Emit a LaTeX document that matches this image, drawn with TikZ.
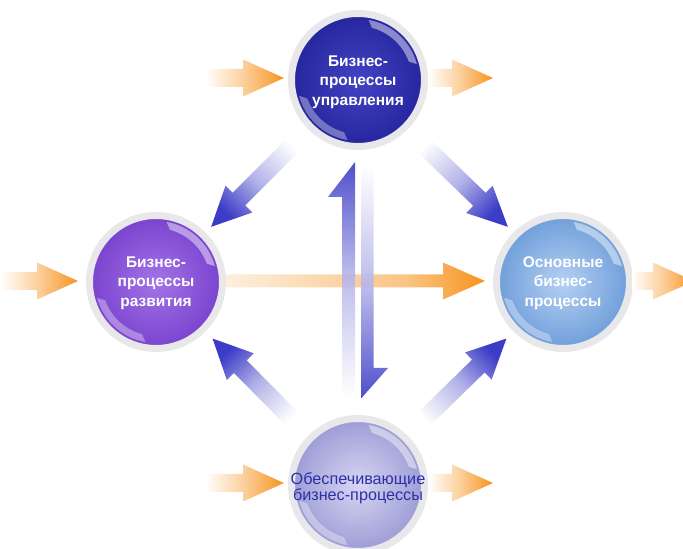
\documentclass[tikz,border=0pt]{standalone}
\usepackage{fontspec}
\setmainfont{Liberation Sans}
\usetikzlibrary{calc}

\definecolor{ringgray}{HTML}{E8E8EA}
\definecolor{arroworange}{HTML}{F7931E}
\definecolor{arrowblue}{HTML}{3C3CC6}
\definecolor{textblue}{HTML}{2F2FA8}
\definecolor{uprin}{HTML}{4444C4}
\definecolor{uprout}{HTML}{25259E}
\definecolor{razvin}{HTML}{A274E6}
\definecolor{razvout}{HTML}{7A42CE}
\definecolor{osnin}{HTML}{B4D0F2}
\definecolor{osnout}{HTML}{6F9EDA}
\definecolor{obesin}{HTML}{D6D6F2}
\definecolor{obesout}{HTML}{9C9CD6}

\pgfdeclarehorizontalshading{orangefade}{100bp}{color(0bp)=(white); color(25bp)=(white);
  color(50bp)=(arroworange!45!white); color(75bp)=(arroworange); color(100bp)=(arroworange)}
\pgfdeclarehorizontalshading{orangebar}{100bp}{color(0bp)=(arroworange!15!white); color(25bp)=(arroworange!15!white);
  color(60bp)=(arroworange!55!white); color(75bp)=(arroworange); color(100bp)=(arroworange)}
\pgfdeclarehorizontalshading{bluefade}{100bp}{color(0bp)=(white); color(25bp)=(white);
  color(52bp)=(arrowblue!40!white); color(75bp)=(arrowblue); color(100bp)=(arrowblue)}

\tikzset{
  ball/.style 2 args={circle, minimum size=133, inner sep=0pt, draw=ringgray, line width=7,
    inner color=#1, outer color=#2,
    path picture={
      \fill[white, opacity=.45] ([shift={(15:61)}]path picture bounding box.center)
        arc[start angle=15, end angle=80, radius=61]
        -- ([shift={(75:54)}]path picture bounding box.center)
        arc[start angle=75, end angle=20, radius=54] -- cycle;
      \fill[white, opacity=.35] ([shift={(195:61)}]path picture bounding box.center)
        arc[start angle=195, end angle=260, radius=61]
        -- ([shift={(255:54)}]path picture bounding box.center)
        arc[start angle=255, end angle=200, radius=54] -- cycle;
    }},
  balltext/.style={align=center, text=white, font=\bfseries\fontsize{15.5}{19.5}\selectfont},
}

% tail, tip, shading, shaft half width, head half width, head length
\newcommand{\fatarrow}[6]{%
  \pgfmathanglebetweenpoints{\pgfpointanchor{#1}{center}}{\pgfpointanchor{#2}{center}}%
  \edef\arrowang{\pgfmathresult}%
  \shade[shading=#3, shading angle=\arrowang]
    let \p1=(#1), \p2=(#2), \n1={veclen(\x2-\x1,\y2-\y1)} in
    ([shift={(\p1)}, rotate=\arrowang]0,-#4)
    -- ([shift={(\p1)}, rotate=\arrowang]\n1-#6,-#4)
    -- ([shift={(\p1)}, rotate=\arrowang]\n1-#6,-#5)
    -- (#2)
    -- ([shift={(\p1)}, rotate=\arrowang]\n1-#6,#5)
    -- ([shift={(\p1)}, rotate=\arrowang]\n1-#6,#4)
    -- ([shift={(\p1)}, rotate=\arrowang]0,#4) -- cycle;
}
% same, barb on the left side only
\newcommand{\halfarrow}[6]{%
  \pgfmathanglebetweenpoints{\pgfpointanchor{#1}{center}}{\pgfpointanchor{#2}{center}}%
  \edef\arrowang{\pgfmathresult}%
  \shade[shading=#3, shading angle=\arrowang, fill opacity=.9]
    let \p1=(#1), \p2=(#2), \n1={veclen(\x2-\x1,\y2-\y1)} in
    ([shift={(\p1)}, rotate=\arrowang]0,-#4)
    -- ([shift={(\p1)}, rotate=\arrowang]\n1,-#4)
    -- ([shift={(\p1)}, rotate=\arrowang]\n1-#6,#5)
    -- ([shift={(\p1)}, rotate=\arrowang]\n1-#6,#4)
    -- ([shift={(\p1)}, rotate=\arrowang]0,#4) -- cycle;
}

\begin{document}
\begin{tikzpicture}[x=1pt, y=1pt]
\useasboundingbox (0,0) rectangle (683,549);

\node[ball={uprin}{uprout}] (upr) at (358,469) {};
\node[ball={razvin}{razvout}] (razv) at (156,267) {};
\node[ball={osnin}{osnout}] (osn) at (563,267) {};
\node[ball={obesin}{obesout}] (obes) at (358,64) {};

\node[balltext] (uprtxt) at ([yshift=-2]upr) {Бизнес-\\процессы\\управления};
\node[balltext] (razvtxt) at ([yshift=-1]razv) {Бизнес-\\процессы\\развития};
\node[balltext] (osntxt) at ([yshift=-1]osn) {Основные\\бизнес-\\процессы};
\node[align=center, text=textblue, font=\fontsize{16.2}{15.5}\selectfont] (obestxt)
  at ([yshift=-3]obes) {Обеспечивающие\\бизнес-процессы};

% orange inputs and outputs
\path (upr.west) ++(-83,2) coordinate (u1) ++(79,0) coordinate (u2);
\path (upr.east) ++(0,2) coordinate (u3) ++(65,0) coordinate (u4);
\path (razv.west) ++(-86,1) coordinate (r1) ++(78,0) coordinate (r2);
\path (razv.east) ++(0,1) coordinate (r3);
\path (osn.west) ++(-8,1) coordinate (o2);
\path (osn.east) ++(-1,1) coordinate (o3) ++(62,0) coordinate (o4);
\path (obes.west) ++(-83,2) coordinate (b1) ++(79,0) coordinate (b2);
\path (obes.east) ++(0,2) coordinate (b3) ++(65,0) coordinate (b4);

\fatarrow{u1}{u2}{orangefade}{9}{18.5}{41}
\fatarrow{u3}{u4}{orangefade}{9}{18.5}{41}
\fatarrow{r1}{r2}{orangefade}{9}{18.5}{41}
\fatarrow{o3}{o4}{orangefade}{9}{18.5}{41}
\fatarrow{b1}{b2}{orangefade}{9}{18.5}{41}
\fatarrow{b3}{b4}{orangefade}{9}{18.5}{41}
\fatarrow{r3}{o2}{orangebar}{6.5}{18.5}{42}

% blue links between the balls
\path (upr) ++(225:82) coordinate (d1);
\path (razv) ++(45:78) coordinate (d2);
\path (upr) ++(315:82) coordinate (d3);
\path (osn) ++(135:78) coordinate (d4);
\path (obes) ++(135:84) coordinate (d5);
\path (razv) ++(315:80) coordinate (d6);
\path (obes) ++(45:82) coordinate (d7);
\path (osn) ++(225:80) coordinate (d8);

\fatarrow{d1}{d2}{bluefade}{9}{19}{39}
\fatarrow{d3}{d4}{bluefade}{9}{19}{39}
\fatarrow{d5}{d6}{bluefade}{9}{19}{39}
\fatarrow{d7}{d8}{bluefade}{9}{19}{39}

\path (obes.north) ++(-9.5,18) coordinate (v1);
\path (upr.south) ++(-9.5,-12) coordinate (v2);
\path (upr.south) ++(9.5,-15) coordinate (v3);
\path (obes.north) ++(9.5,17) coordinate (v4);

\halfarrow{v1}{v2}{bluefade}{6.5}{20.5}{35}
\halfarrow{v3}{v4}{bluefade}{6}{20.5}{30}
\end{tikzpicture}
\end{document}
